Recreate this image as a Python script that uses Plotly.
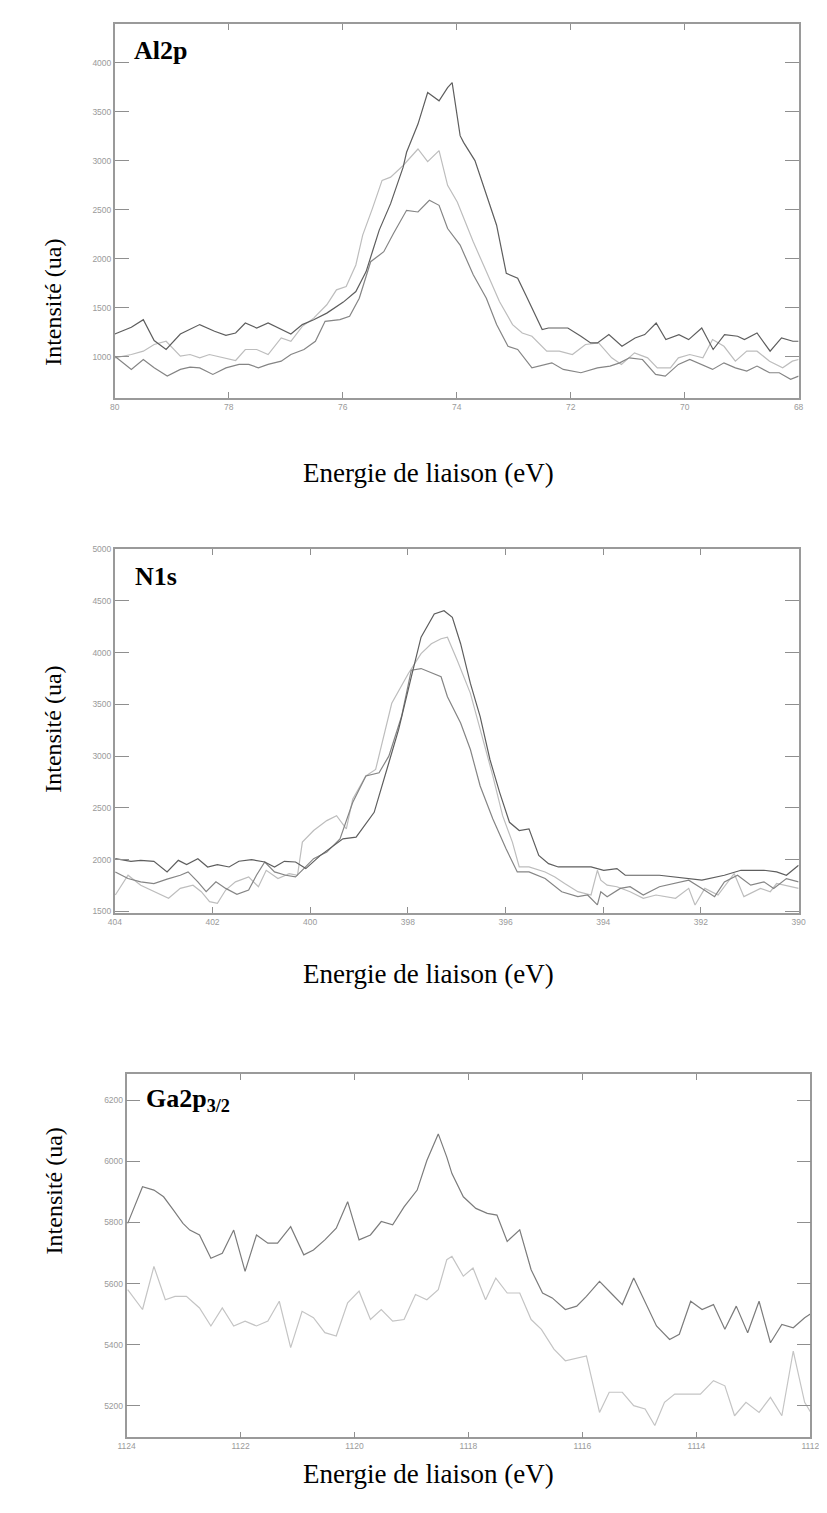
import plotly.graph_objects as go

# ---------------- Al2p ----------------
al_e_dark = [80.0, 79.71, 79.5, 79.31, 79.1, 78.85, 78.51, 78.25, 78.05, 77.88, 77.71, 77.51, 77.31, 77.08, 76.91,
             76.71, 76.51, 76.28, 75.99, 75.77, 75.59, 75.48, 75.36, 75.16, 74.94, 74.88, 74.68, 74.51, 74.31, 74.16,
             74.08, 73.94, 73.88, 73.68, 73.48, 73.3, 73.13, 72.93, 72.79, 72.5, 72.39, 72.05, 71.82, 71.65, 71.53,
             71.33, 71.1, 70.87, 70.7, 70.5, 70.33, 70.1, 69.93, 69.7, 69.5, 69.3, 69.07, 68.95, 68.73, 68.5, 68.3,
             68.1, 68.0]
al_v_dark = [1233, 1301, 1379, 1166, 1075, 1233, 1329, 1261, 1220, 1243, 1345, 1294, 1345, 1278, 1233,
             1329, 1379, 1446, 1558, 1666, 1869, 2072, 2292, 2562, 2934, 3086, 3373, 3694, 3610, 3745,
             3796, 3255, 3187, 3001, 2663, 2342, 1852, 1801, 1633, 1278, 1294, 1294, 1210, 1142, 1142,
             1227, 1108, 1193, 1227, 1345, 1176, 1227, 1176, 1294, 1075, 1227, 1210, 1176, 1243, 1058, 1193,
             1159, 1159]

al_e_light = [80.0, 79.71, 79.5, 79.31, 79.1, 78.85, 78.68, 78.51, 78.34, 78.11, 77.88, 77.71, 77.51, 77.31, 77.08,
              76.91, 76.71, 76.51, 76.28, 76.11, 75.94, 75.77, 75.65, 75.48, 75.31, 75.16, 74.94, 74.68, 74.51, 74.31,
              74.16, 73.99, 73.71, 73.48, 73.25, 73.02, 72.85, 72.68, 72.42, 72.2, 71.97, 71.74, 71.51, 71.28, 71.11,
              70.88, 70.65, 70.48, 70.25, 70.11, 69.91, 69.68, 69.51, 69.31, 69.11, 68.91, 68.73, 68.51, 68.28, 68.11,
              68.0]
al_v_light = [990, 1024, 1058, 1126, 1159, 1007, 1024, 990, 1024, 990, 963, 1075, 1075, 1024, 1193,
              1159, 1311, 1395, 1531, 1683, 1717, 1937, 2241, 2511, 2799, 2832, 2951, 3119, 2991, 3103,
              2748, 2579, 2173, 1869, 1565, 1329, 1243, 1210, 1058, 1058, 1024, 1126, 1142, 990, 923,
              1041, 990, 888, 888, 990, 1024, 990, 1176, 1108, 956, 1058, 1058, 956, 888, 956,
              973]

al_e_mid = [80.0, 79.71, 79.5, 79.31, 79.08, 78.85, 78.68, 78.51, 78.28, 78.05, 77.82, 77.65, 77.48, 77.31, 77.08,
            76.91, 76.68, 76.48, 76.31, 76.05, 75.88, 75.71, 75.51, 75.28, 75.11, 74.88, 74.68, 74.48, 74.31, 74.16,
            73.94, 73.71, 73.48, 73.3, 73.1, 72.93, 72.68, 72.33, 72.13, 71.82, 71.53, 71.31, 71.14, 70.97, 70.74,
            70.51, 70.34, 70.11, 69.91, 69.71, 69.51, 69.31, 69.11, 68.91, 68.73, 68.51, 68.34, 68.14, 68.0]
al_v_mid = [1007, 872, 973, 888, 804, 872, 896, 888, 821, 888, 923, 923, 888, 923, 956,
            1024, 1075, 1159, 1362, 1379, 1413, 1598, 1970, 2072, 2257, 2494, 2477, 2596, 2545, 2308,
            2140, 1836, 1598, 1329, 1108, 1075, 888, 939, 872, 838, 888, 906, 939, 990, 973,
            821, 804, 923, 973, 923, 872, 939, 888, 855, 906, 838, 838, 771, 804]

# ---------------- N1s ----------------
n_e_dark = [403.99, 403.67, 403.47, 403.2, 402.93, 402.7, 402.53, 402.3, 402.1, 401.9, 401.66, 401.46, 401.2,
            400.93, 400.73, 400.53, 400.3, 400.09, 399.79, 399.33, 399.06, 398.69, 398.39, 398.19, 397.93, 397.73,
            397.46, 397.26, 397.09, 396.92, 396.72, 396.52, 396.32, 396.12, 395.92, 395.72, 395.52, 395.32, 395.12,
            394.92, 394.25, 393.99, 393.72, 393.55, 392.85, 392.52, 391.98, 391.52, 391.18, 390.71, 390.45, 390.25,
            390.0]
n_v_dark = [2008, 1983, 1992, 1983, 1880, 1992, 1951, 2008, 1928, 1951, 1928, 1983, 1999,
            1976, 1928, 1983, 1976, 1912, 2040, 2200, 2216, 2456, 2935, 3255, 3766, 4149,
            4373, 4405, 4341, 4086, 3702, 3382, 2967, 2647, 2360, 2280, 2296, 2040, 1960,
            1928, 1928, 1896, 1912, 1848, 1848, 1832, 1800, 1848, 1896, 1896, 1880, 1848,
            1944]

n_e_light = [403.99, 403.73, 403.47, 403.2, 402.9, 402.66, 402.4, 402.23, 402.06, 401.9, 401.73, 401.53, 401.26,
             401.06, 400.9, 400.66, 400.43, 400.26, 400.16, 399.93, 399.66, 399.46, 399.26, 399.13, 398.86, 398.66,
             398.33, 397.99, 397.73, 397.52, 397.32, 397.19, 396.99, 396.72, 396.46, 396.26, 396.06, 395.86, 395.72,
             395.52, 395.19, 394.99, 394.79, 394.52, 394.25, 394.12, 394.05, 393.92, 393.72, 393.45, 393.18, 392.92,
             392.52, 392.25, 392.12, 391.92, 391.65, 391.32, 391.12, 390.78, 390.58, 390.45, 390.0]
n_v_light = [1657, 1848, 1752, 1689, 1625, 1721, 1752, 1689, 1593, 1577, 1705, 1784, 1832,
             1737, 1896, 1816, 1864, 1848, 2168, 2280, 2376, 2424, 2296, 2583, 2807, 2871,
             3510, 3798, 3990, 4086, 4134, 4149, 3926, 3606, 3159, 2807, 2424, 2168, 1928,
             1928, 1880, 1832, 1768, 1689, 1657, 1896, 1800, 1752, 1737, 1689, 1625, 1657,
             1625, 1721, 1561, 1721, 1657, 1864, 1641, 1721, 1689, 1768, 1721]

n_e_mid = [403.99, 403.73, 403.47, 403.2, 402.93, 402.66, 402.5, 402.3, 402.13, 401.93, 401.73, 401.5, 401.26,
           401.1, 400.93, 400.73, 400.5, 400.3, 400.13, 399.93, 399.66, 399.39, 399.13, 398.86, 398.59, 398.39,
           398.13, 397.93, 397.73, 397.32, 397.19, 396.92, 396.72, 396.52, 396.26, 395.99, 395.76, 395.52, 395.19,
           394.85, 394.52, 394.32, 394.12, 394.05, 393.92, 393.65, 393.45, 393.18, 392.85, 392.52, 392.25, 391.98,
           391.72, 391.52, 391.25, 390.98, 390.71, 390.51, 390.25, 390.0]
n_v_mid = [1880, 1816, 1784, 1768, 1810, 1848, 1880, 1784, 1689, 1784, 1721, 1663, 1705,
           1848, 1976, 1880, 1848, 1832, 1912, 2008, 2072, 2200, 2551, 2807, 2839, 2999,
           3382, 3830, 3846, 3766, 3574, 3319, 3063, 2711, 2392, 2104, 1880, 1880, 1816,
           1689, 1641, 1657, 1561, 1689, 1641, 1721, 1737, 1657, 1737, 1768, 1800, 1721,
           1641, 1784, 1848, 1752, 1784, 1721, 1816, 1784]

# ---------------- Ga2p3/2 ----------------
ga_e_dark = [1123.98, 1123.72, 1123.52, 1123.35, 1123.18, 1123.01, 1122.89, 1122.72, 1122.52, 1122.32, 1122.12,
             1121.92, 1121.72, 1121.52, 1121.35, 1121.12, 1120.89, 1120.72, 1120.52, 1120.32, 1120.12, 1119.92,
             1119.72, 1119.53, 1119.33, 1119.13, 1118.9, 1118.73, 1118.53, 1118.38, 1118.29, 1118.09, 1117.87,
             1117.67, 1117.5, 1117.32, 1117.1, 1116.9, 1116.7, 1116.53, 1116.3, 1116.1, 1115.93, 1115.7, 1115.5,
             1115.3, 1115.1, 1114.9, 1114.7, 1114.47, 1114.3, 1114.1, 1113.9, 1113.7, 1113.5, 1113.3, 1113.1,
             1112.9, 1112.7, 1112.5, 1112.3, 1112.1, 1112.0]
ga_v_dark = [5797, 5917, 5906, 5884, 5841, 5797, 5775, 5759, 5683, 5699, 5775,
             5640, 5759, 5732, 5732, 5786, 5694, 5710, 5743, 5781, 5868, 5743,
             5759, 5803, 5792, 5851, 5906, 6003, 6090, 6014, 5960, 5884, 5846,
             5830, 5824, 5738, 5776, 5645, 5569, 5553, 5515, 5526, 5558, 5607, 5569,
             5531, 5618, 5537, 5461, 5417, 5434, 5542, 5515, 5531, 5450, 5526, 5439,
             5542, 5406, 5466, 5455, 5488, 5500]

ga_e_light = [1123.98, 1123.72, 1123.52, 1123.32, 1123.15, 1122.95, 1122.72, 1122.52, 1122.32, 1122.12, 1121.92,
              1121.72, 1121.52, 1121.32, 1121.12, 1120.92, 1120.72, 1120.52, 1120.32, 1120.12, 1119.92, 1119.72,
              1119.53, 1119.33, 1119.13, 1118.93, 1118.73, 1118.53, 1118.38, 1118.29, 1118.09, 1117.92, 1117.7,
              1117.52, 1117.32, 1117.1, 1116.9, 1116.72, 1116.5, 1116.3, 1115.93, 1115.7, 1115.53, 1115.3, 1115.1,
              1114.9, 1114.73, 1114.56, 1114.38, 1114.16, 1113.93, 1113.7, 1113.5, 1113.33, 1113.13, 1112.9, 1112.7,
              1112.5, 1112.3, 1112.1, 1112.0]
ga_v_light = [5580, 5515, 5656, 5547, 5558, 5558, 5520, 5461, 5520, 5461, 5477,
              5461, 5477, 5542, 5390, 5509, 5488, 5439, 5428, 5537, 5575, 5482,
              5515, 5477, 5482, 5564, 5547, 5580, 5678, 5689, 5624, 5651, 5547,
              5618, 5569, 5569, 5482, 5450, 5385, 5347, 5363, 5178, 5244, 5244, 5200,
              5189, 5135, 5211, 5238, 5238, 5238, 5282, 5265, 5167, 5211, 5178, 5227,
              5167, 5379, 5211, 5180]

al_yticks = [1000, 1500, 2000, 2500, 3000, 3500, 4000]
n_yticks = [1500, 2000, 2500, 3000, 3500, 4000, 4500, 5000]
ga_yticks = [5200, 5400, 5600, 5800, 6000, 6200]
al_xticks = [80, 78, 76, 74, 72, 70, 68]
n_xticks = [404, 402, 400, 398, 396, 394, 392, 390]
ga_xticks = [1124, 1122, 1120, 1118, 1116, 1114, 1112]

W, H = 827, 1513
DARK, MID, LIGHT = "#5e5e5e", "#858585", "#bdbdbd"
GA_DARK, GA_LIGHT = "#7c7c7c", "#c4c4c4"

fig = go.Figure()

def line(x, y, color, ax):
    fig.add_trace(go.Scatter(x=x, y=y, mode="lines", line=dict(color=color, width=1.2),
                             xaxis="x" + ax, yaxis="y" + ax, showlegend=False, hoverinfo="skip"))

line(al_e_light, al_v_light, LIGHT, "")
line(al_e_mid, al_v_mid, MID, "")
line(al_e_dark, al_v_dark, DARK, "")
line(n_e_light, n_v_light, LIGHT, "2")
line(n_e_mid, n_v_mid, MID, "2")
line(n_e_dark, n_v_dark, DARK, "2")
line(ga_e_light, ga_v_light, GA_LIGHT, "3")
line(ga_e_dark, ga_v_dark, GA_DARK, "3")

def px_x(p):
    return p / W

def px_y(p):
    return 1 - p / H

tickfont = dict(family="Liberation Sans", size=8.5, color="#9a9a9a")

def xaxis(dom, rng, ticks, anchor):
    return dict(domain=dom, range=rng, tickvals=ticks, ticks="inside", ticklen=6, tickwidth=1,
                tickcolor="#8f8f8f", showline=True, linecolor="#9a9a9a", linewidth=1.6, mirror="ticks",
                showgrid=False, zeroline=False, tickfont=tickfont, anchor=anchor)

def yaxis(dom, rng, ticks, anchor):
    return dict(domain=dom, range=rng, tickvals=ticks, ticks="inside", ticklen=14, tickwidth=1,
                tickcolor="#8f8f8f", showline=True, linecolor="#9a9a9a", linewidth=1.6, mirror="ticks",
                showgrid=False, zeroline=False, tickfont=tickfont, anchor=anchor)

fig.update_layout(
    width=W, height=H, margin=dict(l=0, r=0, t=0, b=0),
    paper_bgcolor="white", plot_bgcolor="white",
    xaxis=xaxis([px_x(100), px_x(799)], [80, 68], al_xticks, "y"),
    yaxis=yaxis([px_y(387), px_y(11)], [581, 4394], al_yticks, "x"),
    xaxis2=xaxis([px_x(100), px_x(799)], [404, 390], n_xticks, "y2"),
    yaxis2=yaxis([px_y(905), px_y(539)], [1481, 5000], n_yticks, "x2"),
    xaxis3=xaxis([px_x(112), px_x(811)], [1124, 1112], ga_xticks, "y3"),
    yaxis3=yaxis([px_y(1432), px_y(1067)], [5096, 6285], ga_yticks, "x3"),
)

serif = "Liberation Serif"
ann = []
for yc in (225, 720, 1250):
    ann.append(dict(text="Intensité (ua)", x=px_x(22), y=px_y(yc), xref="paper", yref="paper",
                    showarrow=False, textangle=-90, font=dict(family=serif, size=24, color="black")))
for yc in (445, 966, 1486):
    ann.append(dict(text="Energie de liaison (eV)", x=px_x(421), y=px_y(yc), xref="paper", yref="paper",
                    showarrow=False, font=dict(family=serif, size=27, color="black")))
labels = [("<b>Al2p</b>", 118, 38), ("<b>N1s</b>", 119, 566), ("<b>Ga2p<sub>3/2</sub></b>", 130, 1093)]
for t, xl, yc in labels:
    ann.append(dict(text=t, x=px_x(xl), y=px_y(yc), xref="paper", yref="paper", xanchor="left",
                    yanchor="middle", showarrow=False, font=dict(family=serif, size=26, color="black")))
fig.update_layout(annotations=ann)

fig.write_html("out.html")
